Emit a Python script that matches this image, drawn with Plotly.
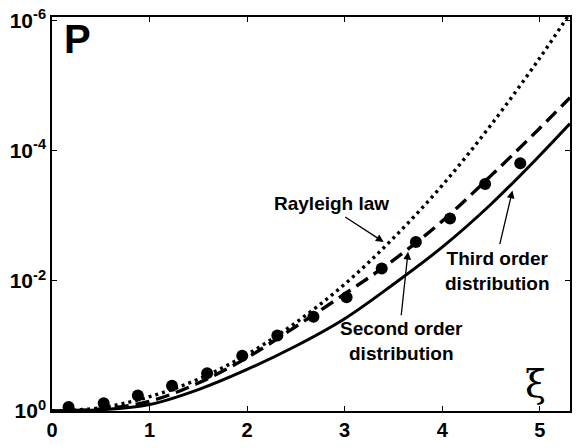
import plotly.graph_objects as go

# ---- data (P plotted on reversed log axis) ----
xi_curve = [0.0, 0.5, 1.0, 1.5, 2.0, 2.5, 3.0, 3.5, 4.0, 4.5, 5.0, 5.31]
# -log10(P)
rayleigh_exp = [0.0, 0.05, 0.22, 0.49, 0.87, 1.36, 1.95, 2.66, 3.47, 4.40, 5.43, 6.12]
second_exp = [0.0, 0.03, 0.15, 0.43, 0.82, 1.30, 1.80, 2.32, 2.92, 3.62, 4.35, 4.82]
third_exp = [0.0, 0.02, 0.10, 0.33, 0.64, 1.00, 1.42, 1.95, 2.52, 3.18, 3.93, 4.42]

xi_points = [0.17, 0.53, 0.88, 1.23, 1.59, 1.95, 2.31, 2.68, 3.02, 3.38, 3.73, 4.08, 4.44, 4.80]
points_exp = [0.06, 0.12, 0.24, 0.39, 0.58, 0.85, 1.16, 1.45, 1.75, 2.19, 2.60, 2.96, 3.49, 3.81]

x_ticks = [0, 1, 2, 3, 4, 5]
y_ticks = [1, 1e-2, 1e-4, 1e-6]
y_ticktext = ["<b>10<sup>0</sup></b>", "<b>10<sup>-2</sup></b>", "<b>10<sup>-4</sup></b>", "<b>10<sup>-6</sup></b>"]

def to_p(exps):
    return [10 ** (-e) for e in exps]

fig = go.Figure()
fig.add_trace(go.Scatter(x=xi_curve, y=to_p(rayleigh_exp), mode="lines",
                         line=dict(color="black", width=3.4, dash="3px,4px", shape="spline"),
                         showlegend=False))
fig.add_trace(go.Scatter(x=xi_curve, y=to_p(second_exp), mode="lines",
                         line=dict(color="black", width=3.4, dash="14px,7px", shape="spline"),
                         showlegend=False))
fig.add_trace(go.Scatter(x=xi_curve, y=to_p(third_exp), mode="lines",
                         line=dict(color="black", width=3, shape="spline"),
                         showlegend=False))
fig.add_trace(go.Scatter(x=xi_points, y=to_p(points_exp), mode="markers",
                         marker=dict(color="black", size=12),
                         showlegend=False))

bold = dict(family="Liberation Sans", size=19, color="black")

annotations = [
    dict(x=0.1, y=-5.72, xref="x", yref="y", text="<b>P</b>", showarrow=False,
         xanchor="left", yanchor="middle", font=dict(family="Liberation Sans", size=40, color="black")),
    dict(x=4.96, y=-0.42, xref="x", yref="y", text="ξ", showarrow=False,
         xanchor="center", yanchor="middle", font=dict(family="DejaVu Serif", size=38, color="black")),
    dict(x=2.87, y=-3.19, xref="x", yref="y", text="<b>Rayleigh law</b>", showarrow=False,
         font=bold),
    dict(x=3.58, y=-1.08, xref="x", yref="y", text="<b>Second order<br>distribution</b>", showarrow=False,
         font=bold, align="center"),
    dict(x=4.56, y=-2.15, xref="x", yref="y", text="<b>Third order<br>distribution</b>", showarrow=False,
         font=bold, align="center"),
    # arrows
    dict(x=3.40, y=-2.60, xref="x", yref="y", ax=-40, ay=-26, axref="pixel", ayref="pixel",
         text="", showarrow=True, arrowhead=2, arrowsize=1.2, arrowwidth=1.3, arrowcolor="black"),
    dict(x=3.65, y=-2.45, xref="x", yref="y", ax=-7, ay=65, axref="pixel", ayref="pixel",
         text="", showarrow=True, arrowhead=2, arrowsize=1.2, arrowwidth=1.3, arrowcolor="black"),
    dict(x=4.72, y=-3.39, xref="x", yref="y", ax=-13, ay=55, axref="pixel", ayref="pixel",
         text="", showarrow=True, arrowhead=2, arrowsize=1.2, arrowwidth=1.3, arrowcolor="black"),
]

fig.update_layout(
    width=579, height=448,
    margin=dict(l=52, r=7, t=13, b=29),
    paper_bgcolor="white", plot_bgcolor="white",
    annotations=annotations,
    xaxis=dict(range=[0, 5.31], tickvals=x_ticks, ticktext=[f"<b>{v}</b>" for v in x_ticks],
               ticks="inside", ticklen=5, tickwidth=1, tickcolor="black",
               showline=True, linecolor="black", linewidth=1.5, mirror="ticks",
               showgrid=False, zeroline=False,
               tickfont=dict(family="Liberation Sans", size=20, color="black")),
    yaxis=dict(type="log", range=[0, -6.06], tickvals=y_ticks, ticktext=y_ticktext,
               ticks="inside", ticklen=5, tickwidth=1, tickcolor="black",
               showline=True, linecolor="black", linewidth=1.5, mirror="ticks",
               showgrid=False, zeroline=False,
               tickfont=dict(family="Liberation Sans", size=21, color="black")),
)

fig.write_html("out.html")
